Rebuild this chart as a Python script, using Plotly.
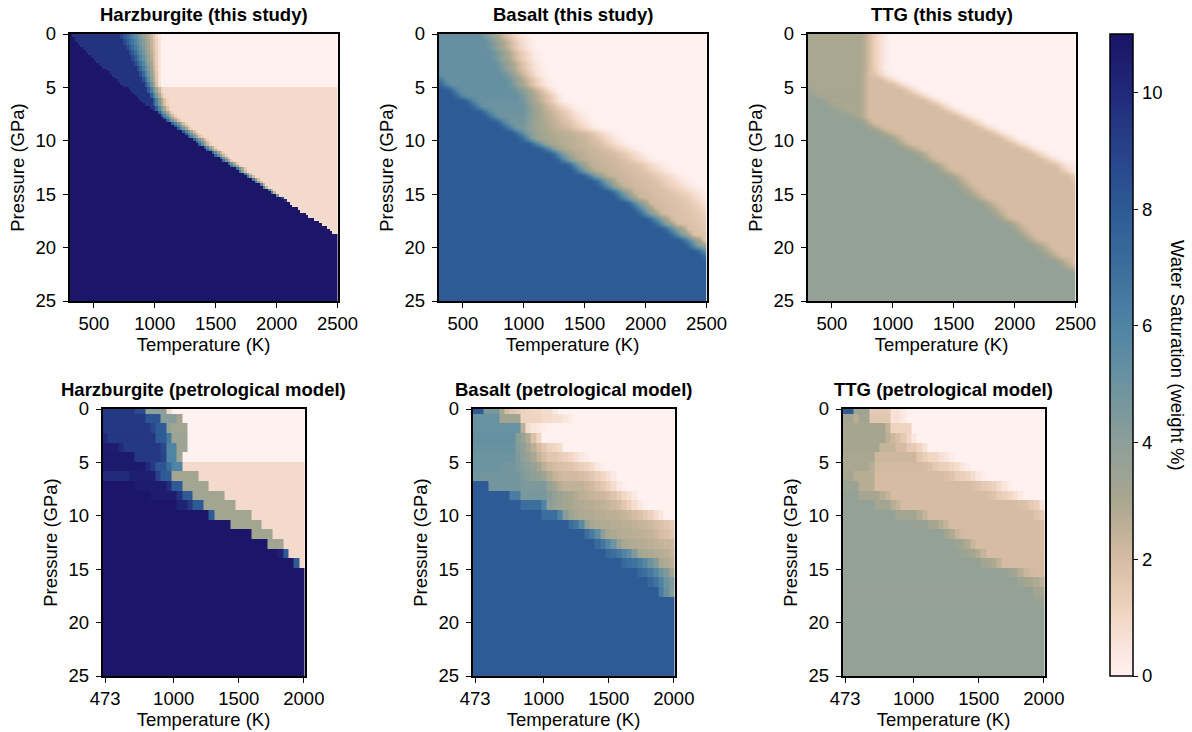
import numpy as np
import plotly.graph_objects as go

FONT = "Liberation Sans"
FS = 18.5
W, H = 1192, 732

COLOR_VALUES = [0, 0.5, 1, 2, 3, 4, 5, 6, 7, 8, 9, 10, 11]
COLOR_HEX = ["#FFF1F0", "#F9E5DC", "#F2D7C5", "#D6BCA2", "#A9A78F", "#8D9F98", "#6C93A0",
             "#4F84A4", "#3B6E9C", "#2E5A96", "#28428A", "#21297A", "#1A1466"]

TITLES = ["Harzburgite (this study)", "Basalt (this study)", "TTG (this study)",
          "Harzburgite (petrological model)", "Basalt (petrological model)", "TTG (petrological model)"]
TOP_TICKS = [500, 1000, 1500, 2000, 2500]
BOTTOM_TICKS = [473, 1000, 1500, 2000]
P_TICKS = [0, 5, 10, 15, 20, 25]
CBAR_TICKS = [0, 2, 4, 6, 8, 10]

# rows are "count*value" runs; a row is padded with its last value
HARZ_TOP = [
"1*10.9 18*9.6 8.8 8 7.4 6.8 6.2 5.6 5 4.4 3.8 3.3 2.8 2.2 1.6 1 .5 0",
"2*10.9 17*9.6 8.8 8 7.4 6.8 6.2 5.6 5 4.4 3.8 3.3 2.8 2.2 1.6 1 .5 0",
"2*10.9 18*9.6 8.8 8 7.2 6.6 6 5.4 4.8 4.2 3.6 3 2.4 1.8 1.2 .6 0",
"3*10.9 17*9.6 8.8 8 7.2 6.6 6 5.4 4.8 4.2 3.6 3 2.4 1.8 1.2 .6 0",
"4*10.9 17*9.6 8.8 8 7.2 6.5 5.8 5.1 4.4 3.7 3.1 2.5 1.9 1.2 .6 0",
"5*10.9 16*9.6 8.8 8 7.2 6.5 5.8 5.1 4.4 3.7 3.1 2.5 1.9 1.2 .6 0",
"6*10.9 16*9.6 8.8 7.9 7.1 6.3 5.5 4.8 4.1 3.4 2.7 2 1.3 .6 0",
"7*10.9 15*9.6 8.8 7.9 7.1 6.3 5.5 4.8 4.1 3.4 2.7 2 1.3 .6 0",
"8*10.9 15*9.6 8.8 7.8 6.9 6 5.2 4.4 3.6 2.8 2 1.3 .6 0",
"9*10.9 14*9.6 8.8 7.8 6.9 6 5.2 4.4 3.6 2.8 2 1.3 .6 0",
"10*10.9 14*9.6 8.7 7.7 6.7 5.8 4.9 4 3.1 2.3 1.4 .6 0",
"11*10.9 13*9.6 8.7 7.7 6.7 5.8 4.9 4 3.1 2.3 1.4 .6 0",
"12*10.9 13*9.6 8.6 7.5 6.4 5.4 4.4 3.4 2.4 1.4 .6 0",
"14*10.9 11*9.6 8.6 7.5 6.4 5.4 4.4 3.4 2.4 1.4 .6 0",
"15*10.9 11*9.6 8.5 7.3 6.1 4.9 3.8 2.7 1.6 .6 0",
"16*10.9 10*9.6 8.5 7.3 6.1 4.9 3.8 2.7 1.6 .6 0",
"17*10.9 10*9.6 8.4 7 5.6 4.2 2.9 1.7 .6 0",
"18*10.9 9*9.6 8.4 7 5.6 4.2 2.9 1.7 .6 0",
"19*10.9 9*9.6 8.2 6.6 5 3.5 2 .7 0",
"20*10.9 8*9.6 8.2 6.6 5 3.5 2 .7 0",
"22*10.9 7*9.6 8 6.4 4.8 3.4 2.2 1.2 .9",
"23*10.9 6*9.6 8 6.4 4.8 3.4 2.2 1.2 .9",
"24*10.9 6*9.6 8 6.2 4.5 3 1.8 1.1 .9",
"25*10.9 5*9.6 8 6.2 4.5 3 1.8 1.1 .9",
"26*10.9 5*9.6 8 6.2 4.5 3 1.8 1.1 .9",
"27*10.9 4*9.6 8 6.2 4.5 3 1.8 1.1 .9",
"28*10.9 3*9.6 8 6.2 4.5 3 1.8 1.1 .9",
"30*10.9 2*9.6 7.8 6 4.4 3 1.8 1.1 .9",
"31*10.9 1*9.6 7.8 6 4.4 3 1.8 1.1 .9",
"33*10.9 7.8 6 4.6 3.2 2 1.2 .9",
"34*10.9 7.8 6 4.6 3.2 2 1.2 .9",
"35*10.9 7.8 6 4.6 3.2 2 1.2 .9",
"36*10.9 7.8 6 4.6 3.2 2 1.2 .9",
"38*10.9 7.8 6 4.6 3.2 2 1.2 .9",
"39*10.9 7.8 6 4.6 3.2 2 1.2 .9",
"40*10.9 7.8 6 4.6 3.2 2 1.2 .9",
"42*10.9 7.8 6 4.6 3.2 2 1.2 .9",
"43*10.9 7.8 6 4.6 3.2 2 1.2 .9",
"44*10.9 7.8 6 4.6 3.2 2 1.2 .9",
"46*10.9 7.8 6 4.6 3.2 2 1.2 .9",
"47*10.9 7.8 6 4.6 3.2 2 1.2 .9",
"48*10.9 7.5 5.5 3.8 2.4 1.3 .9",
"50*10.9 7.5 5.5 3.8 2.4 1.3 .9",
"51*10.9 7.5 5.5 3.8 2.4 1.3 .9",
"53*10.9 7.5 5.5 3.8 2.4 1.3 .9",
"54*10.9 7.5 5.5 3.8 2.4 1.3 .9",
"56*10.9 7 5 3 1.5 .9",
"57*10.9 7 5 3 1.5 .9",
"59*10.9 7 5 3 1.5 .9",
"60*10.9 7 5 3 1.5 .9",
"62*10.9 7 5 3 1.5 .9",
"63*10.9 6.5 4 2 .9",
"65*10.9 6.5 4 2 .9",
"66*10.9 6.5 4 2 .9",
"68*10.9 6.5 4 2 .9",
"69*10.9 6.5 4 2 .9",
"71*10.9 6 2.5 .9",
"72*10.9 6 2.5 .9",
"74*10.9 6 2.5 .9",
"75*10.9 6 2.5 .9",
"77*10.9 5 .9",
"79*10.9 9 .9",
"80*10.9 10 .9",
"82*10.9 .9",
"83*10.9 .9",
"85*10.9 .9",
"86*10.9 .9",
"88*10.9 .9",
"89*10.9 .9",
"91*10.9 .9",
"93*10.9 .9",
"94*10.9 .9",
"96*10.9 .9",
"97*10.9 .9",
"98*10.9 .9",
] + ["101*10.9"] * 27

BASALT_TOP = [
"8*5.2 4.8 4.1 3.4 2.7 2 1.4 .9 .5 .2 0",
"9*5.2 4.8 4.1 3.4 2.7 2 1.4 .9 .5 .2 0",
"9*5.2 4.8 4.1 3.4 2.7 2 1.4 .9 .5 .2 0",
"10*5.2 4.8 4.1 3.4 2.7 2 1.4 .9 .5 .2 0",
"10*5.2 4.8 4.1 3.4 2.7 2 1.4 .9 .5 .2 0",
"11*5.2 4.7 4 3.3 2.6 1.9 1.3 .8 .4 .1 0",
"11*5.2 4.7 4 3.3 2.6 1.9 1.3 .8 .4 .1 0",
"12*5.2 4.7 3.9 3.1 2.4 1.7 1.1 .6 .2 0",
"6.5 12*5.2 4.7 3.9 3.1 2.4 1.7 1.1 .6 .2 0",
"7.4 6 11*5.2 4.7 3.9 3.1 2.4 1.7 1.1 .6 .2 0",
"2*8 7 5.8 10*5.2 4.9 4.2 3.5 2.9 2.3 1.6 .9 .3 0",
"3*8 7 5.8 10*5.2 4.7 4 3.3 2.7 2.2 1.6 1 .4 0",
"5*8 7 5.8 8*5.1 4.7 4 3.3 2.7 2.2 1.6 1 .5 .1 0",
"6*8 7 5.8 8*5 4.5 3.8 3.2 2.7 2.2 1.7 1.2 .8 .4 .1 0",
"8*8 7 5.7 6*5 4.5 3.9 3.3 2.8 2.5 2.2 1.8 1.4 1 .6 .3 .1 0",
"9*8 7 5.7 5*4.9 4.4 3.8 3.3 2.9 2.6 2.3 2 1.6 1.2 .8 .5 .2 .05 0",
"11*8 7 5.6 3*4.8 4.3 3.8 3.3 3 2.7 2.5 2.2 1.9 1.6 1.2 .8 .5 .2 .05 0",
"12*8 7.2 6 4.8 4.6 4.2 3.7 3.3 3 2.8 2.6 2.4 2.2 1.9 1.6 1.2 .8 .5 .2 .05 0",
"14*8 7 5.6 4.4 3.9 3.5 3.2 3 2.8 2.7 2.6 2.5 2.3 2.1 1.9 1.6 1.2 .8 .5 .2 .05 0",
"15*8 7.2 5.8 4.2 3.5 3.2 3 2.9 2.8 2.7 2.6 2.5 2.4 2.2 2 1.7 1.3 .9 .6 .3 .1 0",
"17*8 7.2 5.7 4.2 3.3 3 2.8 2.7 2.6 2.5 2.4 2.3 2.1 1.9 1.7 1.3 .9 .6 .3 .1 0",
"19*8 7.2 5.7 4.2 3.3 2.9 2.7 2.6 2.5 2.4 2.3 2.2 2 1.8 1.5 1.2 .9 .6 .3 .1 0",
"21*8 7.2 5.7 4.2 3.3 2.8 2.7 2.5 2.4 2.3 2.2 2.1 2 1.8 1.5 1.2 .9 .6 .3 .1 0",
"22*8 7.2 5.7 4.2 3.3 2.7 2.6 2.5 2.4 2.3 2.2 2.1 2 1.8 1.5 1.2 .9 .6 .3 .1 0",
"24*8 7.2 5.7 4.2 3.3 2.6 2.5 2.4 2.3 2.2 2.1 2 1.9 1.8 1.6 1.3 1 .7 .4 .2 .05 0",
"25*8 7.2 5.7 4.2 3.3 2.6 2.5 2.4 2.3 2.2 2.1 2 1.9 1.8 1.6 1.3 1 .7 .4 .2 .05 0",
"27*8 7.2 5.7 4.2 3.3 2.5 2.4 2.3 2.2 2.1 2 2 1.9 1.7 1.5 1.2 1 .7 .4 .2 .05 0",
"29*8 7.2 5.7 4.2 3.3 2.4 2.3 2.2 2.1 2 2 1.9 1.7 1.5 1.2 1 .7 .4 .2 .05 0",
"30*8 7.2 5.7 4.2 3.3 2.4 2.3 2.2 2.1 2 1.9 1.9 1.7 1.5 1.2 1 .8 .5 .3 .15 .05",
"32*8 7.2 5.7 4.2 3.3 2.3 2.2 2.1 2 1.9 1.9 1.8 1.6 1.4 1.2 .9 .6 .4 .2",
"33*8 7.2 5.7 4.2 3.3 2.3 2.2 2.1 2 1.9 1.8 1.8 1.6 1.5 1.3 1 .7 .4",
"35*8 7.2 5.7 4.2 3.3 2.2 2.1 2 1.9 1.8 1.8 1.7 1.5 1.3 1 .6",
"36*8 7.2 5.7 4.2 3.3 2.2 2.1 2 1.9 1.8 1.7 1.6 1.5 1.2 .9",
"37*8 7.2 5.7 4.2 3.3 2.1 2 1.9 1.8 1.8 1.7 1.6 1.4 1.1",
"39*8 7.2 5.7 4.2 3.3 2 1.9 1.8 1.7 1.6 1.5 1.3",
"40*8 7.2 5.7 4.2 3.3 2 1.9 1.8 1.7 1.6 1.4",
"42*8 7.2 5.7 4.2 3.3 1.9 1.8 1.7 1.5",
"43*8 7.2 5.7 4.2 3.3 1.8 1.7 1.6",
"45*8 7.2 5.7 4.2 3.3 1.6",
"46*8 7.2 5.7 4.2 3.3",
"48*8 7.2 5.5",
"49*8 7",
] + ["52*8"] * 10

TTG_TOP = [
"10*3 2.7 2 1.2 .7 .3 0", "10*3 2.7 2 1.2 .7 .3 0", "10*3 2.7 2 1.2 .7 .3 0",
"10*3 2.7 2 1.2 .7 .3 0", "10*3 2.7 2 1.2 .7 .3 0", "10*3 2.7 2 1.2 .7 .3 0",
"10*3 2.7 2 1.3 .7 .2 0",
"10*3 2.6 1.9 1.6 1 .5 .1 0",
"10*3 2.6 3*2 1.6 1 .5 .1 0",
"10*3 2.6 5*2 1.6 1 .5 .1 0",
"3.4 9*3 2.6 7*2 1.6 1 .5 .1 0",
"3.7 3.3 8*3.1 2.6 9*2 1.6 1 .5 .1 0",
"3*3.75 3.3 6*3 2.6 11*2 1.6 1 .5 .1 0",
"4*3.75 3.4 3.1 4*3 2.6 13*2 1.6 1 .5 .1 0",
"6*3.75 3.4 3.1 2*3 2.6 15*2 1.6 1 .5 .1 0",
"8*3.75 3.4 3.1 2.6 17*2 1.6 1 .5 .1 0",
"10*3.75 3.3 2.6 18*2 1.6 1 .5 .1 0",
"11*3.75 3.4 2.9 2.4 18*2 1.6 1 .5 .1 0",
"13*3.75 3.4 2.9 2.4 18*2 1.6 1 .5 .1 0",
"15*3.75 3.4 2.9 2.4 18*2 1.6 1 .5 .1 0",
"16*3.75 3.4 2.9 2.4 19*2 1.6 1 .5 .1 0",
"18*3.75 3.4 2.9 2.4 19*2 1.6 1 .5 .1 0",
"20*3.75 3.4 2.9 2.4 19*2 1.6 1 .5 .1 0",
"21*3.75 3.4 2.9 2.4 20*2 1.6 1 .5 .1 0",
"23*3.75 3.4 2.9 2.4 20*2 1.6 1 .5",
"24*3.75 3.4 2.9 2.4 20*2 1.6 1 .5",
"26*3.75 3.4 2.9 2.4 20*2 1.4",
"27*3.75 3.4 2.9 2.4 19*2 1.7",
"28*3.75 3.4 2.9 2.4 19*2",
"29*3.75 3.4 2.9 2.4 18*2",
"30*3.75 3.4 2.9 2.4 17*2",
"32*3.75 3.4 2.9 2.4 15*2",
"33*3.75 3.4 2.9 2.4 14*2",
"34*3.75 3.4 2.9 2.4 13*2",
"35*3.75 3.4 2.9 2.4 12*2",
"37*3.75 3.4 2.9 2.4 10*2",
"38*3.75 3.4 2.9 2.4 9*2",
"39*3.75 3.4 2.9 2.4 8*2",
"40*3.75 3.4 2.9 2.4 7*2",
"42*3.75 3.4 2.9 2.4 5*2",
"43*3.75 3.4 2.9 2.4 4*2",
"44*3.75 3.4 2.9 2.4 3*2",
"46*3.75 3.4 2.9 2.4 2",
"47*3.75 3.4 2.9 2.4",
"49*3.75 3.4",
] + ["52*3.75"] * 7

P_EDGES_MODEL = [0, .44, 1.34, 2.25, 3.15, 4.05, 4.95, 5.85, 6.75, 7.66, 8.56, 9.46, 10.36, 11.26, 12.17,
                 13.07, 13.97, 14.87, 15.77, 16.68, 17.58, 18.48, 19.38, 20.28, 21.19, 22.09, 22.99, 23.89, 24.8, 25]

HARZ_MODEL = [
"6*9.4 2*8.6 4*4 .9 0",
"8*9.4 3*8.3 3*4.2 3.2 0",
"9*9.4 8.8 2*8 3.8 3*3.3 0",
"10 9*9.5 2*8 6.5 3*3.4 0",
"3*10.6 10 7*9.4 8.8 2*6 2*3.4 0",
"6*10.7 5*9.5 8.9 2*6 3.4 0",
"8*10.7 10 9.3 2*8.2 7 2*6 .9",
"5*10 5*10.5 9 2*8 5*3.3 .9",
"6*10.9 6*10.6 9.8 2*8 5*3.3 .9",
"9*10.9 5*10.6 9.7 2*8 6*3.3 .9",
"14*10.9 2*10.3 9.4 2*8 6*3.3 .9",
"20*10.9 8 7*3.3 .9",
"24*10.9 6*3.3 .9",
"28*10.9 4*3.3 .9",
"31*10.9 3*3.3 .9",
"33*10.9 10.4 8 .9",
"36*10.9 8 .9",
] + ["39*10.9"] * 12

BASALT_MODEL = [
"2*8 3*4.6 3 2 1.6 1.4 1.2 1.1 1 1 .8 .8 .4 0",
"5*5.1 4*3.3 4*1.1 2*.9 2*.7 .4 .2 0",
"9*5.1 2.6 .8 .5 .3 .2 0",
"8*5.2 4.2 3.6 2.8 1.8 1 0",
"8*5.1 4.3 4 3.3 2.6 2 1.6 1.2 1 .8 0",
"8*5 4.5 4 3.6 3 2.4 2 1.6 1.6 1.4 1.2 1 .7 .4 .2 0",
"5*5 3*4.8 4.5 4.2 4 3.6 3.2 2.6 2.2 2 1.9 1.8 1.7 1.5 1.3 1.1 .8 .4 .1 0",
"9*4.8 4.4 4.2 4 3.8 3.4 2.8 2.4 2.2 3*2.1 2 1.8 1.6 1.3 1 .7 .3 0",
"3*8 6*4.8 5*4.5 3.8 3.2 2.7 4*2.5 2.3 2.1 1.8 1.5 1.2 .8 .4 .1 0",
"7*8 2*6.3 5*4.6 4.2 3.8 3.4 3.1 3 2.8 2.6 2.5 2.4 2.3 2.2 2 1.7 1.4 1 .7 .3 0",
"9*8 4*7 6 4 3.6 3.4 3.2 3 2.9 2.8 2.7 2.7 2.6 2.5 2.4 2.2 2 1.6 1.2 .8 .4 .1 0",
"13*8 3*7 6 4.2 3.4 3 2.9 2.8 2.8 2.7 2.7 2.6 2.6 2.5 2.4 2.2 2 1.8 1.5 1.2 .8 .4 0",
"18*8 7 6.6 5.6 3.8 3 2.9 2.8 2.8 2.7 2.7 2.6 2.6 2.5 2.4 2.3 2.2 2 1.8 1.6 1.4 1.2 1",
"21*8 7 6.4 5.5 4 3 2.9 2.8 2.7 2.7 2.6 2.6 2.5 2.4 2.2 2 1.8 1.6",
"23*8 7.2 6.6 5.8 5 3.8 3 2.9 2.8 2.7 2.7 2.6 2.5 2.4 2.3 2.2",
"25*8 7.3 7 6.6 6 5.4 4.4 3.3 3 2.9 2.8 2.7 2.6 2.4",
"28*8 7.3 7 6.8 6.4 5.8 5 4.3 3 2.8 2.6",
"31*8 7.3 7 6.5 5.8 5 4.4 3.2",
"33*8 7.4 6.8 6 5 4.4",
"35*8 6.4 5.2 4.2",
] + ["39*8"] * 9

TTG_MODEL = [
"2*8 3*3.4 4*1.5 2*.6 .3 0",
"2*3.2 2.7 2*3.2 4*1.6 2*.6 .3 0",
"8*3.1 2.4 4*1.1 0",
"8*3.1 2.6 2.2 1.9 1.5 1 .4 0",
"7*3.1 3*2.4 2*2 2*1.5 1.1 .6 0",
"6*3 8*2.2 1.6 1.3 1 1 .7 .5 .2 0",
"5*3 2.7 9*2.1 2 1.8 1.5 1.3 1.2 1 .8 .5 .2 0",
"2*3.1 4*2.7 13*2 1.9 1.7 1.4 1.3 1.1 .8 .4 .2 0",
"3*3.5 3*2.7 18*2 1.9 1.7 1.5 1.4 1.2 .9 .5 .2 0",
"3*3.8 4*3.1 2.7 2.4 18*2 1.9 1.7 1.4 1.2 1 .7 .3 0",
"6*3.8 3*3.3 2.7 2.4 22*2 1.9 1.8 1.5 1.3 .6",
"10*3.8 4*3.3 2.8 2.4 20*2 1.7 1.5",
"13*3.8 3*3.6 3.2 3.1 2.7 2.4 18*2",
"19*3.75 3.3 2.9 2.4 2.1 15*2",
"21*3.75 3.4 3.2 2.8 2.3 13*2",
"21*3.75 3.6 3.5 3.4 3.2 2.8 2.4 11*2",
"23*3.75 3*3.7 3.3 3.1 2.9 2.5 8*2.05",
"31*3.75 3.4 3.1 2.7 2.3 2.1 2*2.05",
"33*3.75 3.4 3.2 3 2.9 2.6",
"36*3.7 3.3 3.1",
"36*3.7 3.6 3.5",
] + ["39*3.75"] * 8


def expand(rows, n):
    out = []
    for row in rows:
        vals = []
        for tok in row.split():
            if "*" in tok:
                c, v = tok.split("*")
                vals += [float(v)] * int(c)
            else:
                vals.append(float(tok))
        vals = vals[:n] + [vals[-1]] * max(0, n - len(vals))
        out.append(vals)
    return out


PANELS_TOP = [69.5, 438.5, 807.5]
PANELS_BOT = [102.5, 472.5, 842.5]
TOP_W, BOT_W = 268, 202
TOP_Y = (34, 301)
BOT_Y = (409, 676)
TOP_RANGE = [300, 2500]
BOT_RANGE = [453, 2005]

fig = go.Figure()


def add_panel(i, z, x0, dx, px_left, px_w, py, xr, ticks, smooth, y_edges=None, y0=None, dy=None):
    n = "" if i == 0 else str(i + 1)
    kw = dict(z=z, coloraxis="coloraxis", xaxis="x" + n, yaxis="y" + n, x0=x0, dx=dx, hoverongaps=False)
    if smooth:
        kw["zsmooth"] = "best"
    if y_edges is not None:
        kw["y"] = y_edges
    else:
        kw["y0"] = y0
        kw["dy"] = dy
    fig.add_trace(go.Heatmap(**kw))
    tfont = dict(family=FONT, size=FS, color="black")
    axis = dict(showline=True, mirror=True, linecolor="black", linewidth=1.5, ticks="outside", ticklen=5,
                tickwidth=1.3, tickcolor="black", showgrid=False, zeroline=False, tickfont=tfont)
    fig.update_layout({
        "xaxis" + n: dict(axis, domain=[px_left / W, (px_left + px_w) / W], range=xr, tickvals=ticks,
                          ticktext=[str(t) for t in ticks], anchor="y" + n, tickangle=0,
                          title=dict(text="Temperature (K)", standoff=4.5, font=tfont)),
        "yaxis" + n: dict(axis, domain=[1 - py[1] / H, 1 - py[0] / H], range=[25, 0], tickvals=P_TICKS,
                          anchor="x" + n, ticklabelstandoff=3,
                          title=dict(text="Pressure (GPa)", standoff=6, font=tfont)),
    })
    fig.add_annotation(text="<b>%s</b>" % TITLES[i], x=(px_left + px_w / 2) / W, y=1 - (py[0] - 7) / H,
                       xref="paper", yref="paper", xanchor="center", yanchor="bottom", showarrow=False,
                       font=tfont)


add_panel(0, expand(HARZ_TOP, 101), 311, 22, PANELS_TOP[0], TOP_W, TOP_Y, TOP_RANGE, TOP_TICKS, False, y0=.125, dy=.25)
add_panel(1, expand(BASALT_TOP, 52), 322, 44, PANELS_TOP[1], TOP_W, TOP_Y, TOP_RANGE, TOP_TICKS, True, y0=.25, dy=.5)
add_panel(2, expand(TTG_TOP, 52), 322, 44, PANELS_TOP[2], TOP_W, TOP_Y, TOP_RANGE, TOP_TICKS, True, y0=.25, dy=.5)
MODEL_DX = (BOT_RANGE[1] - BOT_RANGE[0]) / 38
MODEL_X0 = BOT_RANGE[0] + MODEL_DX / 2
add_panel(3, expand(HARZ_MODEL, 39), MODEL_X0, MODEL_DX, PANELS_BOT[0], BOT_W, BOT_Y, BOT_RANGE, BOTTOM_TICKS, False, y_edges=P_EDGES_MODEL)
add_panel(4, expand(BASALT_MODEL, 39), MODEL_X0, MODEL_DX, PANELS_BOT[1], BOT_W, BOT_Y, BOT_RANGE, BOTTOM_TICKS, False, y_edges=P_EDGES_MODEL)
add_panel(5, expand(TTG_MODEL, 39), MODEL_X0, MODEL_DX, PANELS_BOT[2], BOT_W, BOT_Y, BOT_RANGE, BOTTOM_TICKS, False, y_edges=P_EDGES_MODEL)

fig.add_annotation(text="Water Saturation (weight %)", x=1178 / W, y=1 - 355 / H, xref="paper", yref="paper",
                   xanchor="center", yanchor="middle", textangle=90, showarrow=False,
                   font=dict(family=FONT, size=FS, color="black"))

fig.update_layout(
    width=W, height=H, autosize=False, margin=dict(l=0, r=0, t=0, b=0, autoexpand=False),
    paper_bgcolor="white", plot_bgcolor="white", showlegend=False,
    font=dict(family=FONT, size=FS, color="black"),
    coloraxis=dict(
        cmin=0, cmax=11,
        colorscale=[[v / 11, c] for v, c in zip(COLOR_VALUES, COLOR_HEX)],
        colorbar=dict(
            x=1110 / W, xanchor="left", xpad=0, ypad=0, y=1 - 355 / H, yanchor="middle",
            lenmode="fraction", len=642 / H, thicknessmode="pixels", thickness=23,
            outlinecolor="black", outlinewidth=1.5, ticks="outside", ticklen=5, tickwidth=1.3, tickcolor="black",
            tickvals=CBAR_TICKS, tickfont=dict(family=FONT, size=FS, color="black"),
        ),
    ),
)

fig.write_html("out.html", config={"displayModeBar": False}, post_script="document.body.style.margin='0';")
